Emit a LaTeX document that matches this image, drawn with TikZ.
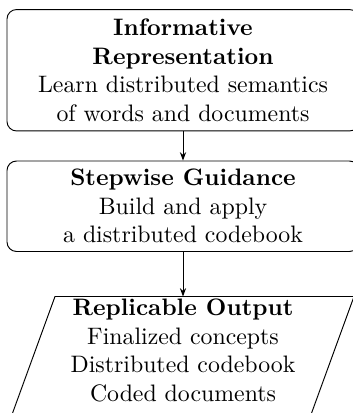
\documentclass[tikz,border=0pt]{standalone}
\usetikzlibrary{arrows.meta}
\begin{document}
\begin{tikzpicture}[x=0.42pt,y=-0.42pt,
  roundbox/.style={draw, rounded corners=4pt, align=center, minimum width=147.84pt, inner sep=0pt},
  flow/.style={-{Stealth[length=3.5pt,width=2.6pt]}}]
\useasboundingbox (0,0) rectangle (352,413);
\node[roundbox, minimum height=51pt] (b1) at (183,70.25)
  {\textbf{Informative}\\\textbf{Representation}\\Learn distributed semantics\\of words and documents};
\node[roundbox, minimum height=38pt] (b2) at (183,206.25)
  {\textbf{Stepwise Guidance}\\Build and apply\\a distributed codebook};
\coordinate (ptl) at (55,296.5);
\coordinate (ptr) at (354,296.5);
\coordinate (pbr) at (298.1,450);
\coordinate (pbl) at (-0.9,450);
\draw (ptl) -- (ptr) -- (pbr) -- (pbl) -- cycle;
\coordinate (ptop) at (183,296.5);
\node[anchor=north, inner sep=0pt, align=center] (b3) at (183,298.5)
  {\textbf{Replicable Output}\\Finalized concepts\\Distributed codebook\\Coded documents};
\draw[flow] (b1) -- (b2);
\draw[flow] (b2) -- (ptop);
\end{tikzpicture}
\end{document}
